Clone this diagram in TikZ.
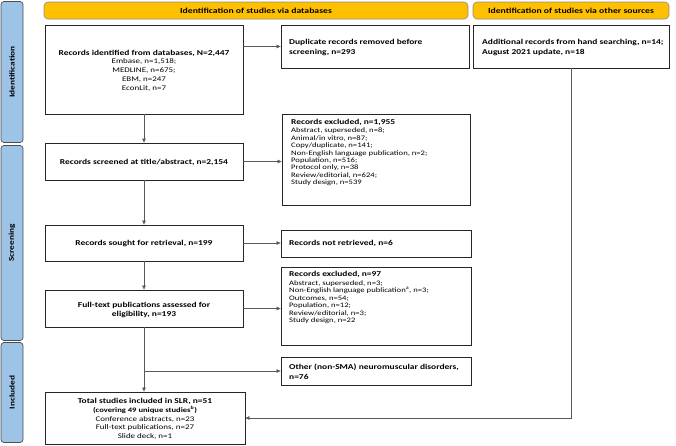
\documentclass[tikz,border=0pt]{standalone}
\usepackage{fontspec}
\setmainfont{Carlito}[FakeStretch=1.26]
\usetikzlibrary{arrows.meta}
\definecolor{sideblue}{RGB}{157,195,230}
\definecolor{headyellow}{RGB}{255,192,0}
\newcommand{\ttlf}{\bfseries\fontsize{7.5}{8.7}\selectfont}
\newcommand{\smf}{\normalfont\fontsize{7.1}{8.7}\selectfont}
\begin{document}
\begin{tikzpicture}[x=1pt,y=-1pt,
  box/.style={draw=black!85, line width=0.8pt, inner sep=0pt},
  side/.style={draw=black!70, line width=0.7pt, fill=sideblue, rounded corners=3pt, rotate=90, inner sep=0pt, font=\bfseries\fontsize{7.4}{8}\selectfont},
  head/.style={draw=black!45, line width=0.6pt, fill=headyellow, rounded corners=4pt, inner sep=0pt, font=\bfseries\fontsize{7.7}{8}\selectfont},
  conn/.style={draw=black!65, line width=0.6pt},
  arr/.style={conn, -{Triangle[length=4pt,width=3.5pt]}},
  txtl/.style={inner sep=0pt, anchor=north west, align=left},
  txtc/.style={inner sep=0pt, align=center}
]
\useasboundingbox (0,0) rectangle (676,445);
% side bars
\node[side, minimum width=141pt, minimum height=22pt] (sb1) at (12,72) {Identification};
\node[side, minimum width=195pt, minimum height=22pt] (sb2) at (12,243) {Screening};
\node[side, minimum width=100pt, minimum height=22pt] (sb3) at (12,392.5) {Included};
% headers
\node[head, minimum width=424pt, minimum height=17pt] (h1) at (256,10.5) {Identification of studies via databases};
\node[head, minimum width=196pt, minimum height=17pt] (h2) at (571,10.5) {Identification of studies via other sources};
% boxes
\node[box, minimum width=198pt, minimum height=89pt] (ident) at (144,69.5) {};
\node[txtc, font=\smf] (identt) at (144,70.5) {\ttlf Records identified from databases, N=2,447\\
 \smf Embase, n=1,518;\\ \smf MEDLINE, n=675;\\ \smf EBM, n=247\\ \smf EconLit, n=7};
\node[box, minimum width=188pt, minimum height=43pt] (dup) at (375,46.5) {};
\node[txtl, font=\ttlf\fontsize{7.5}{10}\selectfont] (dupt) at (289,39) {Duplicate records removed before\\screening, n=293};
\node[box, minimum width=196pt, minimum height=43pt] (add) at (571,46.5) {};
\node[txtl, font=\ttlf\fontsize{7.5}{10}\selectfont] (addt) at (482,39) {Additional records from hand searching, n=14;\\August 2021 update, n=18};

\node[box, minimum width=198pt, minimum height=37pt] (scr) at (144,161.5) {};
\node[txtc, font=\ttlf] (scrt) at (144,162) {Records screened at title/abstract, n=2,154};
\node[box, minimum width=188pt, minimum height=91pt] (ex1) at (376,159.5) {};
\node[txtl, font=\normalfont\fontsize{6.85}{7.4}\selectfont] (ex1t) at (291,119.5) {{\ttlf Records excluded, n=1,955}\\[0.6pt]
Abstract, superseded, n=8;\\Animal/in vitro, n=87;\\Copy/duplicate, n=141;\\Non-English language publication, n=2;\\Population, n=516;\\Protocol only, n=38\\Review/editorial, n=624;\\Study design, n=539};

\node[box, minimum width=198pt, minimum height=36pt] (sou) at (144,243) {};
\node[txtc, font=\ttlf] (sout) at (144,243.5) {Records sought for retrieval, n=199};
\node[box, minimum width=190pt, minimum height=27pt] (nr) at (376,243.5) {};
\node[anchor=west, inner sep=0pt, font=\ttlf] (nrt) at (289,243.5) {Records not retrieved, n=6};

\node[box, minimum width=198pt, minimum height=37pt] (ft) at (144,308.5) {};
\node[txtc, font=\ttlf\fontsize{7.5}{9}\selectfont] (ftt) at (144,309.5) {Full-text publications assessed for\\eligibility, n=193};
\node[box, minimum width=190pt, minimum height=78pt] (ex2) at (376,306) {};
\node[txtl, font=\normalfont\fontsize{6.85}{7.5}\selectfont] (ex2t) at (289,271.5) {{\ttlf Records excluded, n=97}\\[0.6pt]
Abstract, superseded, n=3;\\Non-English language publication\textsuperscript{a}, n=3;\\Outcomes, n=54;\\Population, n=12;\\Review/editorial, n=3;\\Study design, n=22};

\node[box, minimum width=190pt, minimum height=28pt] (oth) at (376,371) {};
\node[txtl, font=\ttlf\fontsize{7.5}{9.5}\selectfont] (otht) at (289,364) {Other (non-SMA) neuromuscular disorders,\\n=76};

\node[box, minimum width=200pt, minimum height=52pt] (tot) at (145,418) {};
\node[txtc, font=\smf] (tott) at (145,419) {\ttlf Total studies included in SLR, n=51\\
 \bfseries\fontsize{6.8}{8.7}\selectfont (covering 49 unique studies\textsuperscript{b})\\
 \smf Conference abstracts, n=23\\ \smf Full-text publications, n=27\\ \smf Slide deck, n=1};

% connectors
\draw[arr] (ident.east |- dup.west) -- (dup.west);
\draw[arr] (ident.south) -- (scr.north);
\draw[arr] (scr.east) -- (ex1.west |- scr.east);
\draw[arr] (scr.south) -- (sou.north);
\draw[arr] (sou.east) -- (nr.west |- sou.east);
\draw[arr] (sou.south) -- (ft.north);
\draw[arr] (ft.east) -- (ex2.west |- ft.east);
\draw[arr] (ft.south) -- (ft.south |- tot.north);
\coordinate (br) at (ft.south |- oth.west);
\draw[arr] (br) -- (oth.west);
\coordinate (cor) at (add.south |- tot.east);
\draw[arr] (add.south) -- (cor) -- (tot.east);
\end{tikzpicture}
\end{document}
